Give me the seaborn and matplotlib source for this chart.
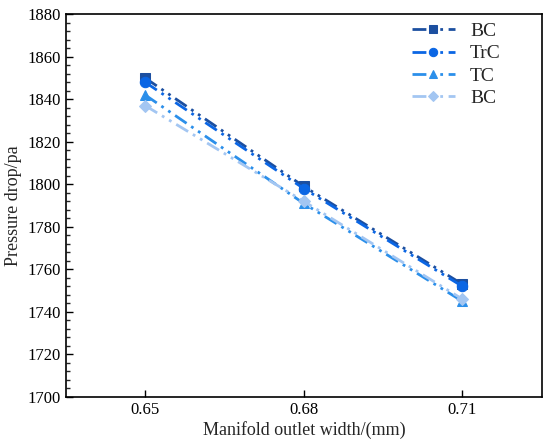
import matplotlib
matplotlib.use("Agg")
import matplotlib.pyplot as plt
import seaborn as sns
import pandas as pd
from matplotlib.ticker import MultipleLocator

widths = [0.65, 0.68, 0.71]
series_names = ["BC", "TrC", "TC", "BC "]
bc1 = [1850, 1799, 1753]
trc = [1848, 1798, 1752]
tc = [1842, 1791, 1745]
bc2 = [1837, 1792, 1746]

colors = ["#1c4fa0", "#0b66e4", "#2b8fea", "#a3c6f2"]
markers = ["s", "o", "^", "D"]
msizes = [6.5, 7.5, 7.5, 6.5]

sns.set_theme(style="white")
plt.rcParams['font.family'] = ['Liberation Serif', 'DejaVu Serif']

rows = []
for name, vals in zip(series_names, [bc1, trc, tc, bc2]):
    for w, v in zip(widths, vals):
        rows.append({"width": w, "dp": v, "series": name})
df = pd.DataFrame(rows)

fig, ax = plt.subplots(figsize=(5.5, 4.47), dpi=100)
fig.subplots_adjust(left=0.12, right=0.985, top=0.968, bottom=0.112)

for name, c, m, ms in zip(series_names, colors, markers, msizes):
    sub = df[df["series"] == name]
    sns.lineplot(data=sub, x="width", y="dp", ax=ax, color=c, marker=m,
                 markersize=ms, markeredgecolor=c, linewidth=2,
                 label=name.strip(), linestyle=(0, (5, 2, 1, 2, 1, 2)))

ax.set_xlim(0.635, 0.725)
ax.set_ylim(1700, 1880)
ax.set_xticks(widths)
ax.set_xticklabels(["0.65", "0.68", "0.71"])
ax.yaxis.set_major_locator(MultipleLocator(20))
ax.yaxis.set_minor_locator(MultipleLocator(4))
ax.tick_params(axis="both", which="major", direction="in", length=5, width=1,
               labelsize=12, colors="black", left=True, bottom=True)
ax.tick_params(axis="y", which="minor", direction="in", length=3, width=1, left=True)
for s in ax.spines.values():
    s.set_color("black")
    s.set_linewidth(1.2)
ax.set_xlabel("Manifold outlet width/(mm)", fontsize=13, labelpad=2)
ax.set_ylabel("Pressure drop/pa", fontsize=13, labelpad=4)

leg = ax.legend(loc="upper right", frameon=False, fontsize=14,
                handlelength=2.2, borderaxespad=0.6, labelspacing=0.25,
                markerscale=0.8, bbox_to_anchor=(0.955, 1.03))
fig.savefig("out.png", dpi=100)
